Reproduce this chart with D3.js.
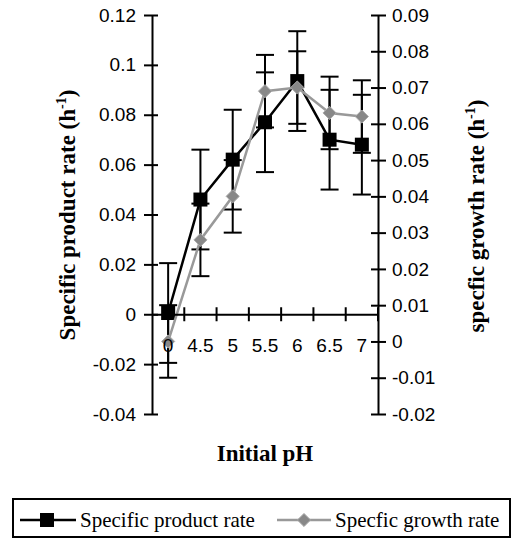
<!DOCTYPE html>
<html lang="en">
<head>
  <meta charset="UTF-8">
  <title>Specific rates vs initial pH</title>
  <script src="https://d3js.org/d3.v7.min.js"></script>
  <style>
    body { margin: 0; background: #fff; }
    .tick text { font-family: Arial, "Liberation Sans", sans-serif; }
  </style>
</head>
<body>
  <script>
    // data
    var phLabels = ["0", "4.5", "5", "5.5", "6", "6.5", "7"];
    var productRate = [0.0005, 0.046, 0.062, 0.077, 0.0935, 0.070, 0.068];
    var productErr = [0.02, 0.02, 0.02, 0.02, 0.02, 0.02, 0.02];
    var growthRate = [0.0, 0.028, 0.040, 0.069, 0.070, 0.063, 0.062];
    var growthErr = [0.01, 0.01, 0.01, 0.01, 0.01, 0.01, 0.01];
    var leftTicks = [-0.04, -0.02, 0, 0.02, 0.04, 0.06, 0.08, 0.1, 0.12];
    var rightTicks = [-0.02, -0.01, 0, 0.01, 0.02, 0.03, 0.04, 0.05, 0.06, 0.07, 0.08, 0.09];

    var width = 519, height = 538;
    var plotLeft = 152, plotRight = 378, plotTop = 15, plotBottom = 414;

    var svg = d3.select("body").append("svg")
      .attr("width", width)
      .attr("height", height);

    var x = d3.scaleBand().domain(phLabels).range([plotLeft, plotRight]).padding(0);
    var yL = d3.scaleLinear().domain([-0.04, 0.12]).range([plotBottom, plotTop]);
    var yR = d3.scaleLinear().domain([-0.02, 0.09]).range([plotBottom, plotTop]);
    var cx = function(i) { return x(phLabels[i]) + x.bandwidth() / 2; };
    var fmt = function(d) { return String(+d.toFixed(3)); };  // plain hyphen for negatives

    var black = "#000", grayLine = "#999999", grayFill = "#888888";

    // series: product (left axis), growth (right axis)
    function drawSeries(vals, errs, y, color, lw) {
      var g = svg.append("g");
      vals.forEach(function(v, i) {
        var x0 = cx(i);
        g.append("line").attr("x1", x0).attr("x2", x0)
          .attr("y1", y(v - errs[i])).attr("y2", y(v + errs[i]))
          .attr("stroke", black).attr("stroke-width", 2);
        [v - errs[i], v + errs[i]].forEach(function(e) {
          g.append("line").attr("x1", x0 - 9).attr("x2", x0 + 9)
            .attr("y1", y(e)).attr("y2", y(e))
            .attr("stroke", black).attr("stroke-width", 2);
        });
      });
      g.append("path")
        .datum(vals)
        .attr("fill", "none")
        .attr("stroke", color)
        .attr("stroke-width", lw)
        .attr("d", d3.line().x(function(d, i) { return cx(i); }).y(function(d) { return y(d); }));
      return g;
    }

    var gp = drawSeries(productRate, productErr, yL, black, 2.5);
    gp.selectAll("rect.m").data(productRate).enter().append("rect")
      .attr("class", "m")
      .attr("x", function(d, i) { return cx(i) - 7; })
      .attr("y", function(d) { return yL(d) - 7; })
      .attr("width", 14).attr("height", 14)
      .attr("fill", black);

    var gg = drawSeries(growthRate, growthErr, yR, grayLine, 2.5);
    var diamond = d3.symbol().type(d3.symbolDiamond2).size(110);
    gg.selectAll("path.m").data(growthRate).enter().append("path")
      .attr("class", "m")
      .attr("d", diamond)
      .attr("transform", function(d, i) { return "translate(" + cx(i) + "," + yR(d) + ")"; })
      .attr("fill", grayFill)
      .attr("stroke", "#aaaaaa")
      .attr("stroke-width", 1);

    // left axis
    var axL = svg.append("g").attr("transform", "translate(" + plotLeft + ",0)")
      .call(d3.axisLeft(yL).tickValues(leftTicks).tickFormat(fmt).tickSizeInner(8).tickSizeOuter(0).tickPadding(8));
    axL.selectAll("line").attr("x1", 6);
    axL.selectAll(".domain, line").attr("stroke", black).attr("stroke-width", 2);
    axL.selectAll("text").attr("font-size", 19).attr("fill", black);

    // right axis
    var axR = svg.append("g").attr("transform", "translate(" + plotRight + ",0)")
      .call(d3.axisRight(yR).tickValues(rightTicks).tickFormat(fmt).tickSizeInner(8).tickSizeOuter(0).tickPadding(6));
    axR.selectAll("line").attr("x1", -7);
    axR.selectAll(".domain, line").attr("stroke", black).attr("stroke-width", 2);
    axR.selectAll("text").attr("font-size", 19).attr("fill", black);

    // x axis at zero of left scale
    var y0 = yL(0);
    var axX = svg.append("g").attr("transform", "translate(0," + y0 + ")")
      .call(d3.axisBottom(x).tickSizeInner(0).tickSizeOuter(0).tickPadding(24));
    axX.select(".domain").attr("stroke", black).attr("stroke-width", 2);
    axX.selectAll("text").attr("font-size", 19).attr("fill", black);
    axX.selectAll("line.bound").data(phLabels).enter().append("line")
      .attr("class", "bound")
      .attr("x1", function(d) { return x(d) + x.bandwidth(); })
      .attr("x2", function(d) { return x(d) + x.bandwidth(); })
      .attr("y1", -7).attr("y2", 7)
      .attr("stroke", black).attr("stroke-width", 2);

    // titles
    var serif = "'Times New Roman', 'Liberation Serif', serif";
    function yTitle(tx, ty, label) {
      var t = svg.append("text")
        .attr("transform", "translate(" + tx + "," + ty + ") rotate(-90)")
        .attr("text-anchor", "middle")
        .attr("font-family", serif)
        .attr("font-weight", "bold")
        .attr("font-size", 23)
        .attr("fill", black);
      t.append("tspan").text(label + " (h");
      t.append("tspan").attr("font-size", 14).attr("dy", -9).text("-1");
      t.append("tspan").attr("dy", 9).text(")");
    }
    yTitle(75, 215, "Specific product rate");
    yTitle(484, 216, "specfic growth rate");

    svg.append("text")
      .attr("x", (plotLeft + plotRight) / 2)
      .attr("y", 461)
      .attr("text-anchor", "middle")
      .attr("font-family", serif)
      .attr("font-weight", "bold")
      .attr("font-size", 23)
      .text("Initial pH");

    // legend
    var lg = svg.append("g");
    lg.append("rect").attr("x", 13).attr("y", 499).attr("width", 497).attr("height", 38)
      .attr("fill", "none").attr("stroke", black).attr("stroke-width", 2);
    var ly = 520;
    lg.append("line").attr("x1", 20).attr("x2", 76).attr("y1", ly).attr("y2", ly)
      .attr("stroke", black).attr("stroke-width", 2.5);
    lg.append("rect").attr("x", 40).attr("y", ly - 7).attr("width", 14).attr("height", 14).attr("fill", black);
    lg.append("text").attr("x", 80).attr("y", ly + 7)
      .attr("font-family", serif).attr("font-size", 21).text("Specific product rate");
    lg.append("line").attr("x1", 277).attr("x2", 331).attr("y1", ly).attr("y2", ly)
      .attr("stroke", grayLine).attr("stroke-width", 2.5);
    lg.append("path").attr("d", diamond).attr("transform", "translate(304," + ly + ")")
      .attr("fill", grayFill).attr("stroke", "#aaaaaa");
    lg.append("text").attr("x", 335).attr("y", ly + 7)
      .attr("font-family", serif).attr("font-size", 21).text("Specfic growth rate");
  </script>
</body>
</html>
